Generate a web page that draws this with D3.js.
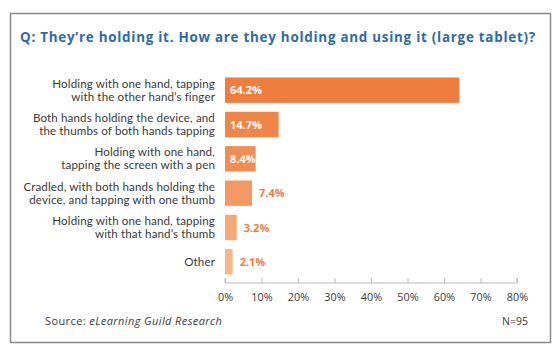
<!DOCTYPE html>
<html><head><meta charset="utf-8">
<script src="https://cdn.jsdelivr.net/npm/d3@7"></script>
<style>body{margin:0;background:#fff;}svg{display:block;font-family:"Open Sans",sans-serif;}</style>
</head><body><svg id="c" width="558" height="356"></svg>
<script>
const title = "Q: They\u2019re holding it. How are they holding and using it (large tablet)?";
const categories = [
  ["Holding with one hand, tapping", "with the other hand\u2019s finger"],
  ["Both hands holding the device, and", "the thumbs of both hands tapping"],
  ["Holding with one hand,", "tapping the screen with a pen"],
  ["Cradled, with both hands holding the", "device, and tapping with one thumb"],
  ["Holding with one hand, tapping", "with that hand\u2019s thumb"],
  ["Other"]
];
const values = [64.2, 14.7, 8.4, 7.4, 3.2, 2.1];
const barColors = ["#ef7d3e", "#f08548", "#f18d52", "#f39a64", "#f5a873", "#f7b78a"];
const ticks = [0, 10, 20, 30, 40, 50, 60, 70, 80];
const source = "eLearning Guild Research";
const note = "N=95";

const svg = d3.select("#c");
svg.append("rect").attr("x", 10.5).attr("y", 13.5).attr("width", 540).attr("height", 329)
  .attr("fill", "none").attr("stroke", "#8a8a8a").attr("stroke-width", 1.5);
svg.append("text").attr("x", 20).attr("y", 42).attr("fill", "#2d6aa8")
  .attr("font-weight", "bold").attr("font-size", 13.4).attr("letter-spacing", 0.75).text(title);

const x = d3.scaleLinear().domain([0, 80]).range([225, 517]);
const y = d3.scaleBand().domain(d3.range(values.length)).range([73, 279]).paddingInner(0.26).paddingOuter(0.13);

const g = svg.append("g");
g.selectAll("rect.bar").data(values).join("rect").attr("class", "bar")
  .attr("x", x(0)).attr("y", (d, i) => y(i)).attr("width", d => x(d) - x(0))
  .attr("height", y.bandwidth()).attr("fill", (d, i) => barColors[i]);

g.selectAll("text.val").data(values).join("text").attr("class", "val")
  .attr("x", (d, i) => i < 3 ? x(0) + 5 : x(d) + 7)
  .attr("y", (d, i) => y(i) + y.bandwidth() / 2 + 4)
  .attr("fill", (d, i) => i < 3 ? "#ffffff" : "#ef7d3e")
  .attr("font-weight", "bold").attr("font-size", 11)
  .text(d => d.toFixed(1) + "%");

const lab = g.selectAll("g.lab").data(categories).join("g").attr("class", "lab");
lab.each(function (lines, i) {
  const t = d3.select(this);
  const cy = y(i) + y.bandwidth() / 2;
  const n = lines.length;
  lines.forEach((l, k) => {
    t.append("text").attr("x", 215).attr("y", cy + 4 + (k - (n - 1) / 2) * 13)
      .attr("text-anchor", "end").attr("fill", "#3a3a3a")
      .attr("font-family", "Lato, sans-serif").attr("font-size", 11.6).attr("letter-spacing", 0.12)
      .text(l);
  });
});

const ax = svg.append("g").attr("transform", "translate(0,283)")
  .call(d3.axisBottom(x).tickValues(ticks).tickSize(-5).tickPadding(10).tickFormat(d => d + "%"));
ax.select(".domain").attr("stroke", "#bbbbbb").attr("d", "M" + x(0) + ",-5V0H" + x(80) + "V-5");
ax.selectAll(".tick line").attr("stroke", "#bbbbbb");
ax.selectAll(".tick text").attr("fill", "#3a3a3a").attr("font-size", 10.8).attr("font-family", "\"Open Sans\",sans-serif");

const src = svg.append("text").attr("x", 45).attr("y", 325).attr("fill", "#3a3a3a").attr("font-size", 11).attr("letter-spacing", 0.4);
src.append("tspan").text("Source: ");
src.append("tspan").attr("font-style", "italic").text(source);
svg.append("text").attr("x", 528).attr("y", 325).attr("text-anchor", "end").attr("fill", "#3a3a3a").attr("font-size", 10.5).text(note);
</script></body></html>
